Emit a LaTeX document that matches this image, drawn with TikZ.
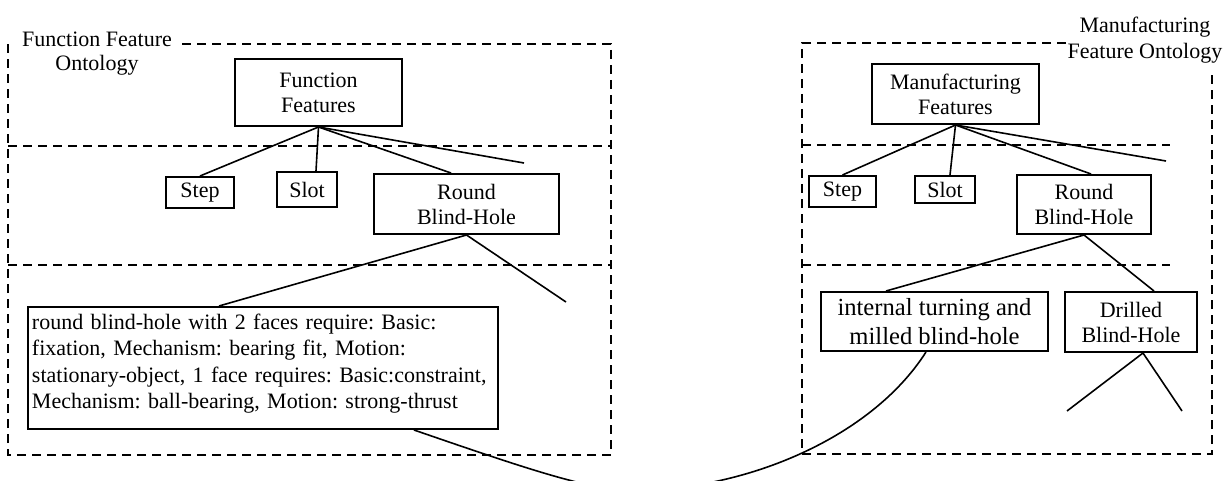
\documentclass[tikz,border=0pt]{standalone}
\usepackage{fontspec}
\setmainfont{Liberation Serif}
\usepackage{tikz}
\frenchspacing
\tikzstyle{featbox}=[draw, line width=1pt, align=center, inner sep=0pt, font=\fontsize{11}{12.5}\selectfont]
\tikzstyle{band}=[dash pattern=on 4.5pt off 3pt, line width=0.8pt]
\tikzstyle{link}=[line width=0.8pt]
\begin{document}
\begin{tikzpicture}[x=0.5pt, y=-0.5pt]
\useasboundingbox (0,0) rectangle (1227,481);
\clip (0,0) rectangle (1227,481);
\draw[band] (182,44) -- (611,44) -- (611,455) -- (8,455) -- (8,44);
\draw[band] (8,146) -- (611,146);
\draw[band] (8,265) -- (611,265);
\draw[band] (1066,43) -- (802,43) -- (802,454) -- (1212,454) -- (1212,70);
\draw[band] (802,145) -- (1170,145);
\draw[band] (802,265) -- (1170,265);

\node[font=\fontsize{11}{12}\selectfont, align=center] (flabel) at (97,54) {Function Feature\\Ontology};
\node[font=\fontsize{11}{13}\selectfont, align=center] (mlabel) at (1145,40) {Manufacturing\\Feature Ontology};

\node[featbox, minimum width=83.5pt, minimum height=33.5pt] (ffeat) at (318.5,92.5) {Function\\Features};
\node[featbox, minimum width=34pt, minimum height=15.5pt] (fstep) at (200,192.5) {Step};
\node[featbox, minimum width=30pt, minimum height=17.5pt] (fslot) at (307,189.5) {Slot};
\node[featbox, minimum width=92.5pt, minimum height=30pt] (fround) at (466.5,204) {Round\\Blind-Hole};
\node[featbox, anchor=north west, text width=231pt, align=left, inner xsep=2pt, inner ysep=3.5pt, font=\fontsize{11}{13.25}\selectfont] (fdesc) at (27,306) {round blind-hole with 2 faces require: Basic:\\fixation, Mechanism: bearing fit, Motion:\\stationary-object, 1 face requires: Basic:constraint,\\Mechanism: ball-bearing, Motion: strong-thrust\rule[-6.5pt]{0pt}{0pt}};

\node[featbox, minimum width=83.5pt, minimum height=30pt] (mfeat) at (955.5,94) {Manufacturing\\Features};
\node[featbox, minimum width=33.5pt, minimum height=15.5pt] (mstep) at (842.5,191.5) {Step};
\node[featbox, minimum width=30pt, minimum height=13.5pt] (mslot) at (945,189.5) {Slot};
\node[featbox, minimum width=67pt, minimum height=29.5pt] (mround) at (1084,204.5) {Round\\Blind-Hole};
\node[featbox, minimum width=113.5pt, minimum height=29.5pt, font=\fontsize{12.3}{14.5}\selectfont] (mturn) at (934.5,321.5) {internal turning and\\milled blind-hole};
\node[featbox, minimum width=66pt, minimum height=30pt] (mdrill) at (1131,322) {Drilled\\Blind-Hole};

\coordinate (fend1) at (524,163);
\coordinate (fend2) at (566,302);
\coordinate (mend1) at (1166,161);
\coordinate (mend2) at (1067,411);
\coordinate (mend3) at (1182,411);
\coordinate (cbottom) at (630,490);

\draw[link] (ffeat.south) -- (fstep.north);
\draw[link] (ffeat.south) -- ([xshift=4.5pt]fslot.north);
\draw[link] (ffeat.south) -- ([xshift=-7.75pt]fround.north);
\draw[link] (ffeat.south) -- (fend1);
\draw[link] (fround.south) -- ([xshift=-22pt]fdesc.north);
\draw[link] (fround.south) -- (fend2);

\draw[link] (mfeat.south) -- (mstep.north);
\draw[link] (mfeat.south) -- ([xshift=2.5pt]mslot.north);
\draw[link] (mfeat.south) -- ([xshift=3.5pt]mround.north);
\draw[link] (mfeat.south) -- (mend1);
\draw[link] (mround.south) -- ([xshift=-24.25pt]mturn.north);
\draw[link] (mround.south) -- ([xshift=11.5pt]mdrill.north);
\draw[link] ([xshift=6pt]mdrill.south) -- (mend2);
\draw[link] ([xshift=6pt]mdrill.south) -- (mend3);

\draw[link] ([xshift=75.5pt]fdesc.south) .. controls (530,470) and (590,490) .. (cbottom) .. controls (740,492) and (870,440) .. ([xshift=-4.25pt]mturn.south);
\end{tikzpicture}
\end{document}
